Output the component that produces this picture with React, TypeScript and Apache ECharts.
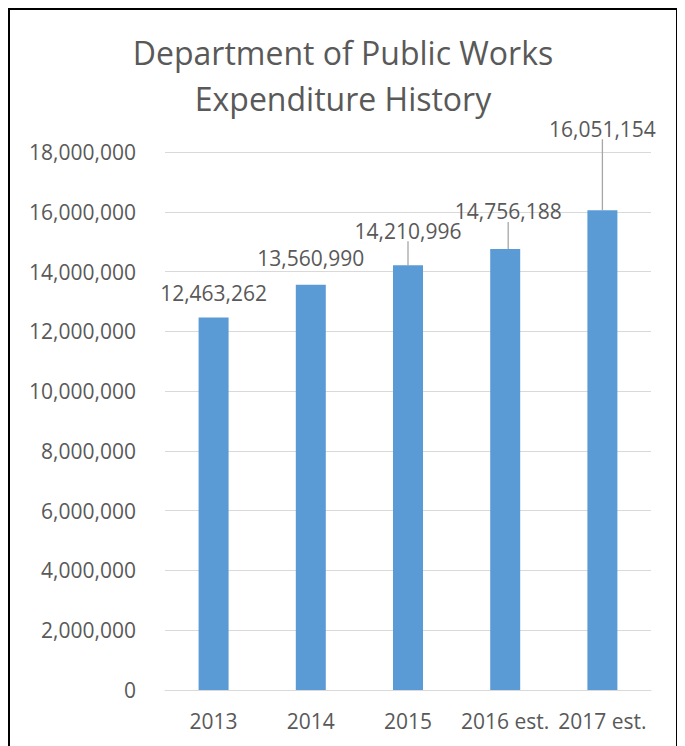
import React, { useEffect, useRef } from "react";
import * as echarts from "echarts";

const categories = ["2013", "2014", "2015", "2016 est.", "2017 est."];
const expenditures = [12463262, 13560990, 14210996, 14756188, 16051154];
const yTicks = { min: 0, max: 18000000, interval: 2000000 };
const labelDx = [0, 0, 0, 3, 0];
const labelDy = [-9, -11, -19, -22, -66];
const showLeader = [false, false, true, true, true];

const TEXT = "#595959";
const FONT = "'Open Sans', 'Noto Sans', sans-serif";

export default function App() {
  const ref = useRef<HTMLDivElement>(null);
  useEffect(() => {
    if (!ref.current) return;
    const chart = echarts.init(ref.current, undefined, { renderer: "svg" });
    chart.setOption({
      animation: false,
      backgroundColor: "#ffffff",
      title: {
        text: "Department of Public Works\nExpenditure History",
        left: "center",
        top: 14,
        textStyle: {
          color: TEXT,
          fontFamily: FONT,
          fontSize: 32,
          fontWeight: "normal",
          lineHeight: 46,
        },
      },
      grid: { left: 155, top: 142, width: 486, height: 538 },
      xAxis: {
        type: "category",
        data: categories,
        axisLine: { lineStyle: { color: "#d9d9d9", width: 1 } },
        axisTick: { show: false },
        axisLabel: {
          color: TEXT,
          fontFamily: FONT,
          fontSize: 21,
          margin: 20,
          interval: 0,
          hideOverlap: false,
        },
      },
      yAxis: {
        type: "value",
        min: yTicks.min,
        max: yTicks.max,
        interval: yTicks.interval,
        axisLine: { show: false },
        axisTick: { show: false },
        splitLine: { lineStyle: { color: "#d9d9d9", width: 1 } },
        axisLabel: {
          color: TEXT,
          fontFamily: FONT,
          fontSize: 21,
          margin: 29,
          formatter: (v: number) => v.toLocaleString("en-US"),
        },
      },
      series: [
        {
          type: "bar",
          barWidth: 30,
          itemStyle: { color: "#5B9BD5" },
          data: expenditures.map((v, i) => ({
            value: v,
            labelLine: { show: showLeader[i] },
          })),
          label: {
            show: true,
            position: "top",
            color: TEXT,
            fontFamily: FONT,
            fontSize: 21,
            formatter: (p: any) => Number(p.value).toLocaleString("en-US"),
          },
          labelLine: {
            lineStyle: { color: "#a6a6a6", width: 1.3 },
          },
          labelLayout: (p: any) => ({
            dx: labelDx[p.dataIndex],
            dy: labelDy[p.dataIndex],
          }),
        },
      ],
    });
    return () => chart.dispose();
  }, []);
  return (
    <div
      style={{
        width: 666,
        height: 741,
        border: "2px solid #000",
      }}
    >
      <div ref={ref} style={{ width: 666, height: 741 }} />
    </div>
  );
}
